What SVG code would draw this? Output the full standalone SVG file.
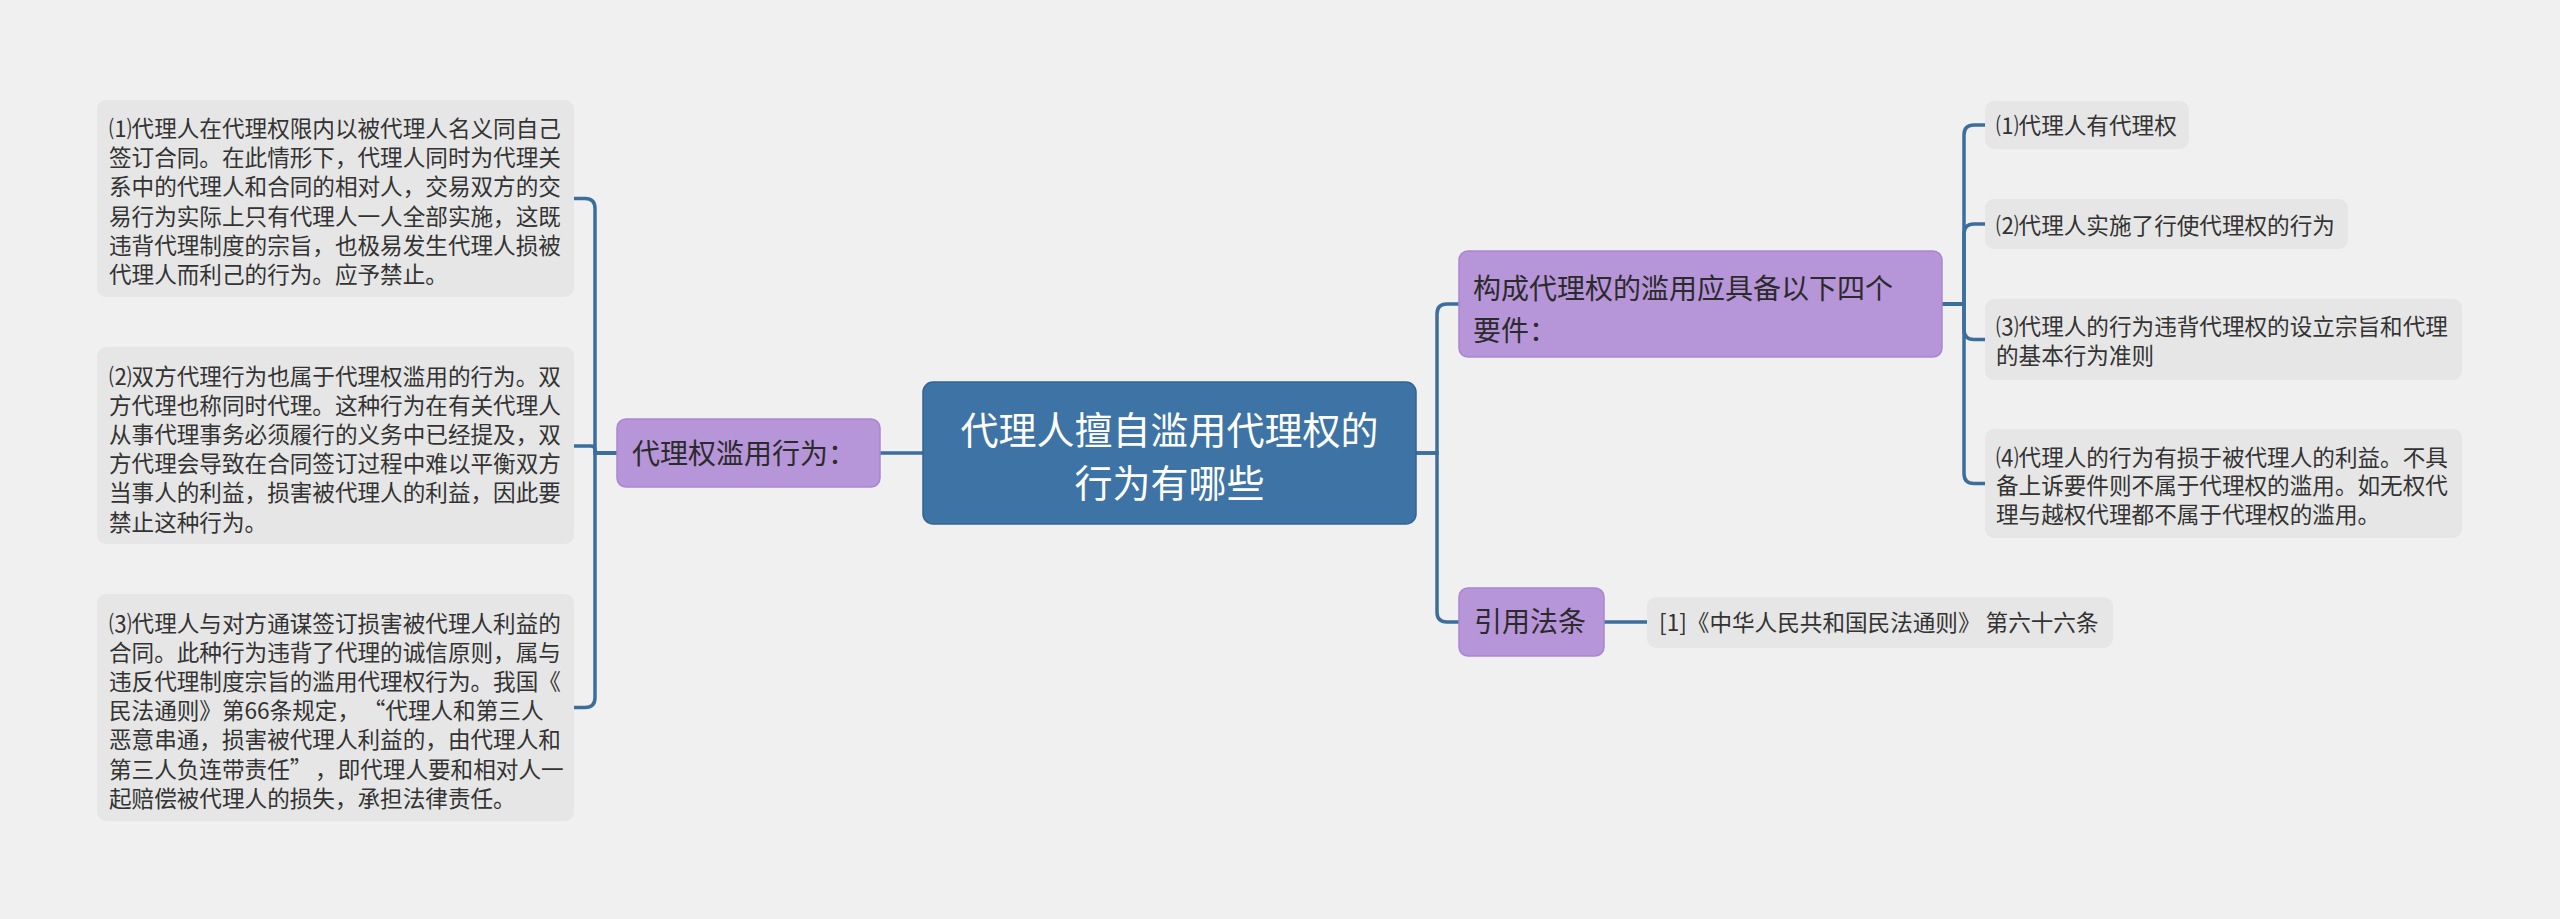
<svg xmlns="http://www.w3.org/2000/svg" width="2560" height="919" viewBox="0 0 2560 919">
<style>
.bg{fill:#f0f0f0}
.leaf{fill:#e6e6e6}
.branch{fill:#b795d9;stroke:#a987cf;stroke-width:1.5}
.root{fill:#3d73a5;stroke:#34638f;stroke-width:1.5}
.conn{fill:none;stroke:#3b6e9c;stroke-width:3.5;stroke-linecap:round}
text{font-family:"Noto Sans CJK SC","Noto Sans",sans-serif}
.t{font-size:22.6px;fill:#333333}
.tb{font-size:28px;fill:#2b2b2b}
.tr{font-size:38px;fill:#ffffff}
</style>
<rect class="bg" x="0" y="0" width="2560" height="919"/>
<g id="connectors">
<path class="conn" d="M923,453 H880"/>
<path class="conn" d="M617,453 H595 V208.5 Q595,198.5 585,198.5 H574"/>
<path class="conn" d="M617,453 H598 Q595,453 595,449.5 Q595,446 591,446 H574"/>
<path class="conn" d="M617,453 H595 V697.5 Q595,707.5 585,707.5 H574"/>
<path class="conn" d="M1416,453 H1437 V314 Q1437,304 1447,304 H1459"/>
<path class="conn" d="M1416,453 H1437 V612 Q1437,622 1447,622 H1459"/>
<path class="conn" d="M1942,304 H1964 V135 Q1964,125 1974,125 H1985"/>
<path class="conn" d="M1942,304 H1964 V234 Q1964,224 1974,224 H1985"/>
<path class="conn" d="M1942,304 H1964 V329.5 Q1964,339.5 1974,339.5 H1985"/>
<path class="conn" d="M1942,304 H1964 V473.5 Q1964,483.5 1974,483.5 H1985"/>
<path class="conn" d="M1604,622 H1647"/>
</g>
<g id="root">
<rect class="root" x="923" y="382" width="493" height="142" rx="10"/>
<text class="tr" x="1169.5" y="443.5" text-anchor="middle">代理人擅自滥用代理权的</text>
<text class="tr" x="1169.5" y="497" text-anchor="middle">行为有哪些</text>
</g>
<g id="branch-left">
<rect class="branch" x="617" y="419" width="263" height="68" rx="9"/>
<text class="tb" x="632" y="463.5">代理权滥用行为：</text>
</g>
<g id="leaf-left-1">
<rect class="leaf" x="97" y="100" width="477" height="197" rx="9"/>
<text class="t" x="109" y="137">⑴代理人在代理权限内以被代理人名义同自己</text>
<text class="t" x="109" y="166.2">签订合同。在此情形下，代理人同时为代理关</text>
<text class="t" x="109" y="195.4">系中的代理人和合同的相对人，交易双方的交</text>
<text class="t" x="109" y="224.6">易行为实际上只有代理人一人全部实施，这既</text>
<text class="t" x="109" y="253.8">违背代理制度的宗旨，也极易发生代理人损被</text>
<text class="t" x="109" y="283">代理人而利己的行为。应予禁止。</text>
</g>
<g id="leaf-left-2">
<rect class="leaf" x="97" y="347" width="477" height="197" rx="9"/>
<text class="t" x="109" y="384.5">⑵双方代理行为也属于代理权滥用的行为。双</text>
<text class="t" x="109" y="413.7">方代理也称同时代理。这种行为在有关代理人</text>
<text class="t" x="109" y="442.9">从事代理事务必须履行的义务中已经提及，双</text>
<text class="t" x="109" y="472.1">方代理会导致在合同签订过程中难以平衡双方</text>
<text class="t" x="109" y="501.3">当事人的利益，损害被代理人的利益，因此要</text>
<text class="t" x="109" y="530.5">禁止这种行为。</text>
</g>
<g id="leaf-left-3">
<rect class="leaf" x="97" y="594" width="477" height="227" rx="9"/>
<text class="t" x="109" y="631.5">⑶代理人与对方通谋签订损害被代理人利益的</text>
<text class="t" x="109" y="660.7">合同。此种行为违背了代理的诚信原则，属与</text>
<text class="t" x="109" y="689.9">违反代理制度宗旨的滥用代理权行为。我国《</text>
<text class="t" x="109" y="719.1">民法通则》第66条规定，<tspan dx="14">“代理人和第三人</tspan></text>
<text class="t" x="109" y="748.3">恶意串通，损害被代理人利益的，由代理人和</text>
<text class="t" x="109" y="777.5">第三人负连带责任”<tspan dx="14">，即代理人要和相对人一</tspan></text>
<text class="t" x="109" y="806.7">起赔偿被代理人的损失，承担法律责任。</text>
</g>
<g id="branch-right-1">
<rect class="branch" x="1459" y="251" width="483" height="106" rx="9"/>
<text class="tb" x="1473" y="298.5">构成代理权的滥用应具备以下四个</text>
<text class="tb" x="1473" y="340.5">要件：</text>
</g>
<g id="leaf-right-1">
<rect class="leaf" x="1985" y="101" width="204" height="48" rx="9"/>
<text class="t" x="1996" y="133.5">⑴代理人有代理权</text>
</g>
<g id="leaf-right-2">
<rect class="leaf" x="1985" y="199" width="363" height="50" rx="9"/>
<text class="t" x="1996" y="234">⑵代理人实施了行使代理权的行为</text>
</g>
<g id="leaf-right-3">
<rect class="leaf" x="1985" y="299" width="477" height="81" rx="9"/>
<text class="t" x="1996" y="334.5">⑶代理人的行为违背代理权的设立宗旨和代理</text>
<text class="t" x="1996" y="363.5">的基本行为准则</text>
</g>
<g id="leaf-right-4">
<rect class="leaf" x="1985" y="429" width="477" height="109" rx="9"/>
<text class="t" x="1996" y="465.5">⑷代理人的行为有损于被代理人的利益。不具</text>
<text class="t" x="1996" y="494">备上诉要件则不属于代理权的滥用。如无权代</text>
<text class="t" x="1996" y="522.5">理与越权代理都不属于代理权的滥用。</text>
</g>
<g id="branch-right-2">
<rect class="branch" x="1459" y="588" width="145" height="68" rx="9"/>
<text class="tb" x="1474" y="631.5">引用法条</text>
</g>
<g id="leaf-citation">
<rect class="leaf" x="1647" y="597" width="466" height="51" rx="9"/>
<text class="t" x="1659" y="631">[1]《中华人民共和国民法通则》 第六十六条</text>
</g>
</svg>
